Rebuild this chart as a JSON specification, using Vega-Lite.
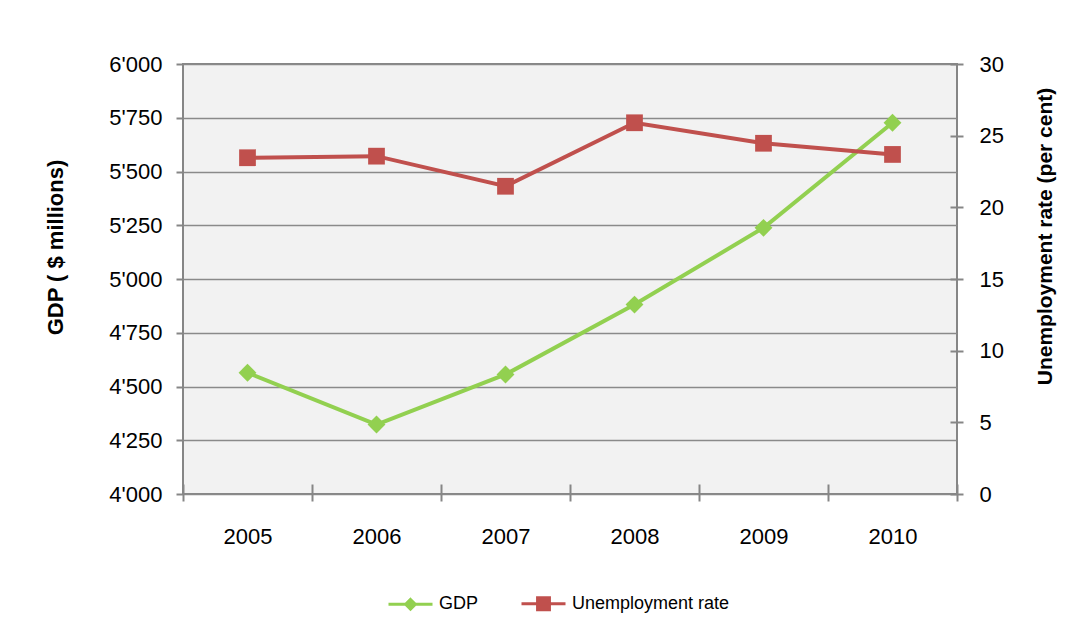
{
  "$schema": "https://vega.github.io/schema/vega-lite/v6.json",
  "width": 774,
  "height": 430,
  "autosize": {"type": "none"},
  "padding": {"left": 183, "top": 64, "right": 130, "bottom": 135},
  "background": "white",
  "config": {
    "view": {"fill": "#F2F2F2", "stroke": "#868686", "strokeWidth": 2},
    "axis": {
      "labelFont": "Liberation Sans",
      "labelFontSize": 22,
      "labelColor": "#000000",
      "tickColor": "#868686",
      "tickWidth": 2,
      "gridColor": "#8a8a8a",
      "gridWidth": 1.5,
      "domain": false
    }
  },
  "data": {
    "values": [
      {"year": "2005", "series": "GDP", "value": 4564},
      {"year": "2006", "series": "GDP", "value": 4323},
      {"year": "2007", "series": "GDP", "value": 4556},
      {"year": "2008", "series": "GDP", "value": 4881},
      {"year": "2009", "series": "GDP", "value": 5238},
      {"year": "2010", "series": "GDP", "value": 5727},
      {"year": "2005", "series": "Unemployment rate", "value": 23.46},
      {"year": "2006", "series": "Unemployment rate", "value": 23.57},
      {"year": "2007", "series": "Unemployment rate", "value": 21.47},
      {"year": "2008", "series": "Unemployment rate", "value": 25.9},
      {"year": "2009", "series": "Unemployment rate", "value": 24.47},
      {"year": "2010", "series": "Unemployment rate", "value": 23.69}
    ]
  },
  "encoding": {
    "x": {
      "field": "year",
      "type": "ordinal",
      "scale": {"paddingInner": 0, "paddingOuter": 0},
      "axis": {
        "title": null,
        "labelAngle": 0,
        "tickBand": "extent",
        "offset": -10,
        "tickSize": 17,
        "labelPadding": 25,
        "grid": false
      }
    }
  },
  "layer": [
    {
      "transform": [{"filter": "datum.series === 'GDP'"}],
      "encoding": {
        "y": {
          "field": "value",
          "type": "quantitative",
          "scale": {"domain": [4000, 6000], "nice": false},
          "axis": {
            "title": "GDP ( $ millions)",
            "titleFont": "Liberation Sans",
            "titleFontSize": 22,
            "titleFontWeight": "bold",
            "titleColor": "#000000",
            "titleAngle": 270,
            "titleAlign": "center",
            "titleBaseline": "middle",
            "titleX": -128,
            "titleY": 183,
            "values": [4000, 4250, 4500, 4750, 5000, 5250, 5500, 5750, 6000],
            "labelExpr": "replace(format(datum.value, ','), ',', \"'\")",
            "tickSize": 7,
            "labelPadding": 14,
            "grid": true
          }
        }
      },
      "layer": [
        {"mark": {"type": "line", "color": "#92D050", "strokeWidth": 4}},
        {"mark": {"type": "point", "shape": "diamond", "filled": true, "color": "#92D050", "size": 320, "opacity": 1}}
      ]
    },
    {
      "transform": [{"filter": "datum.series === 'Unemployment rate'"}],
      "encoding": {
        "y": {
          "field": "value",
          "type": "quantitative",
          "scale": {"domain": [0, 30], "nice": false},
          "axis": {
            "orient": "right",
            "title": "Unemployment rate (per cent)",
            "titleFont": "Liberation Sans",
            "titleFontSize": 21,
            "titleFontWeight": "bold",
            "titleColor": "#000000",
            "titleAngle": 270,
            "titleAlign": "center",
            "titleBaseline": "middle",
            "titleX": 95,
            "titleY": 172,
            "values": [0, 5, 10, 15, 20, 25, 30],
            "offset": -7,
            "tickSize": 13,
            "labelPadding": 16,
            "grid": false
          }
        }
      },
      "layer": [
        {"mark": {"type": "line", "color": "#C0504D", "strokeWidth": 4}},
        {"mark": {"type": "point", "shape": "square", "filled": true, "color": "#C0504D", "size": 280, "opacity": 1}}
      ]
    },
    {
      "transform": [{"filter": "datum.value < 0"}],
      "mark": {"type": "point", "filled": true, "strokeWidth": 3, "opacity": 1},
      "encoding": {
        "fill": {
          "field": "series",
          "type": "nominal",
          "scale": {"domain": ["GDP", "Unemployment rate"], "range": ["#92D050", "#C0504D"]},
          "legend": {
            "title": null,
            "orient": "none",
            "direction": "horizontal",
            "legendX": 204,
            "legendY": 516,
            "symbolSize": 1936,
            "symbolStrokeWidth": 3,
            "symbolOpacity": 1,
            "labelFont": "Liberation Sans",
            "labelFontSize": 18,
            "labelColor": "#000000",
            "labelLimit": 0,
            "labelOffset": 5,
            "columnPadding": 36,
            "padding": 0
          }
        },
        "stroke": {
          "field": "series",
          "type": "nominal",
          "scale": {"domain": ["GDP", "Unemployment rate"], "range": ["#92D050", "#C0504D"]},
          "legend": {
            "title": null,
            "orient": "none",
            "direction": "horizontal",
            "legendX": 204,
            "legendY": 516,
            "symbolSize": 1936,
            "symbolStrokeWidth": 3,
            "symbolOpacity": 1,
            "labelFont": "Liberation Sans",
            "labelFontSize": 18,
            "labelColor": "#000000",
            "labelLimit": 0,
            "labelOffset": 5,
            "columnPadding": 36,
            "padding": 0
          }
        },
        "shape": {
          "field": "series",
          "type": "nominal",
          "scale": {
            "domain": ["GDP", "Unemployment rate"],
            "range": ["M-1,0H1M0,-0.22L0.22,0L0,0.22L-0.22,0Z", "M-1,0H1M-0.27,-0.27H0.27V0.27H-0.27Z"]
          },
          "legend": {
            "title": null,
            "orient": "none",
            "direction": "horizontal",
            "legendX": 204,
            "legendY": 516,
            "symbolSize": 1936,
            "symbolStrokeWidth": 3,
            "symbolOpacity": 1,
            "labelFont": "Liberation Sans",
            "labelFontSize": 18,
            "labelColor": "#000000",
            "labelLimit": 0,
            "labelOffset": 5,
            "columnPadding": 36,
            "padding": 0
          }
        }
      }
    }
  ],
  "resolve": {"scale": {"y": "independent"}}
}
